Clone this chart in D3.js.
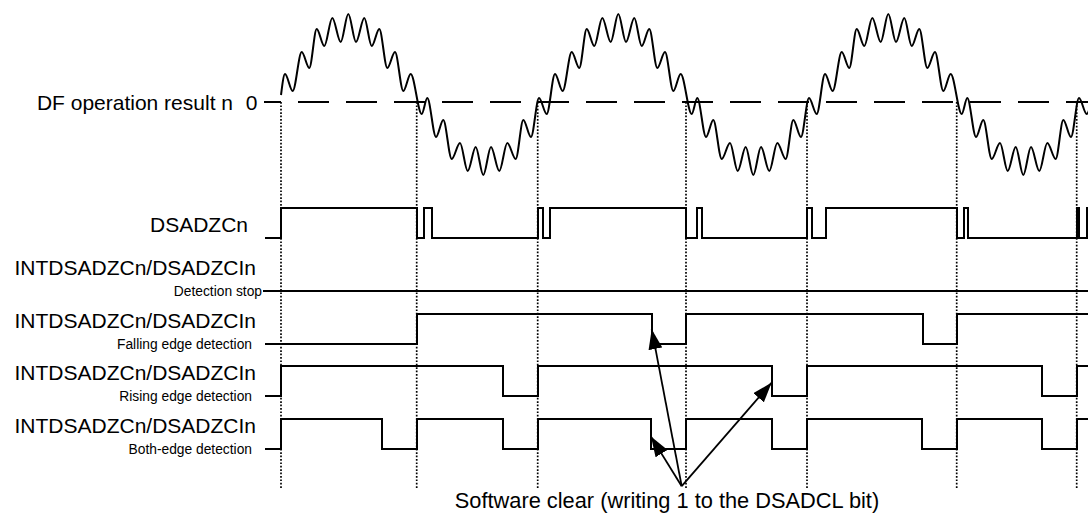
<!DOCTYPE html>
<html>
<head>
<meta charset="utf-8">
<script src="https://cdn.jsdelivr.net/npm/d3@7"></script>
<style>
  html, body { margin: 0; padding: 0; background: #fff; }
  svg { display: block; }
  text { font-family: "Liberation Sans", Arial, sans-serif; fill: #000; }
</style>
</head>
<body>
<div id="chart"></div>
<script>
// ---------------- data (time units; one analog period = 270) ----------------
const zeroCrossings = [0, 135.7, 256.7, 405, 526, 675.7, 795.7];

// DF operation result: ripple extrema [time, value]
const waveT = [
  0, 4, 11.7, 20.7, 28.3, 35.7, 43.3, 51.3, 59.7, 67.3, 75, 83.3, 90.7, 98.3, 106.3, 114, 122.3, 129.7,
  140.7, 146.3, 155, 162.3, 170.7, 179, 186.7, 194.7, 202.3, 210, 218.3, 226.3, 234.7, 242.3, 250, 258, 265.7,
  274, 281.7, 290.7, 298.3, 305.7, 313.3, 321.3, 329.7, 337.3, 345, 353.3, 360.7, 368.3, 376.3, 384, 392.3, 399.7,
  410.7, 416.3, 425, 432.3, 440.7, 449, 456.7, 464.7, 472.3, 480, 488.3, 496.3, 504.7, 512.3, 520, 528, 535.7,
  544, 551.7, 560.7, 568.3, 575.7, 583.3, 591.3, 599.7, 607.3, 615, 623.3, 630.7, 638.3, 646.3, 654, 662.3, 669.7,
  680.7, 686.3, 695, 702.3, 710.7, 719, 726.7, 734.7, 742.3, 750, 758.3, 766.3, 774.7, 782.3, 790, 798, 805.7, 814
];
const waveV = [
  7, 28, 11, 50, 34, 73, 56, 84, 60, 88, 60, 84, 56, 73, 34, 50, 11, 28,
  -12, 4, -35, -18, -57, -41, -69, -45, -73, -45, -69, -41, -57, -18, -35, 4, -12,
  28, 11, 50, 34, 73, 56, 84, 60, 88, 60, 84, 56, 73, 34, 50, 11, 28,
  -12, 4, -35, -18, -57, -41, -69, -45, -73, -45, -69, -41, -57, -18, -35, 4, -12,
  28, 11, 50, 34, 73, 56, 84, 60, 88, 60, 84, 56, 73, 34, 50, 11, 28,
  -12, 4, -35, -18, -57, -41, -69, -45, -73, -45, -69, -41, -57, -18, -35, 4, -12, 28
];

// Digital signals: initial level 0, toggles at the listed times
const dsadzcEdges  = [0, 135.7, 143, 151, 256.7, 261.7, 269, 405, 415.7, 420.7, 526, 530.7, 544.7, 675.7, 683.3, 687.3, 795.7, 798.3, 806.3];
const stopEdges    = [];
const fallingEdges = [135.7, 370.7, 405, 641.7, 675.7];
const risingEdges  = [0, 221.7, 256.7, 491.3, 526, 760.7, 795.7];
const bothEdges    = [0, 100.7, 135.7, 221.7, 256.7, 369.7, 405, 491.3, 526, 640.7, 675.7, 760.7, 795.7];

const rowTitles = ["DSADZCn", "INTDSADZCn/DSADZCIn", "INTDSADZCn/DSADZCIn", "INTDSADZCn/DSADZCIn", "INTDSADZCn/DSADZCIn"];
const rowSubtitles = ["", "Detection stop", "Falling edge detection", "Rising edge detection", "Both-edge detection"];
const waveLabel = "DF operation result n";
const zeroLabel = "0";
const noteText = "Software clear (writing 1 to the DSADCL bit)";
// arrow targets: [time, row, level]
const arrowApex = [400.7, 4.7, 0];
const arrowTips = [[370.7, 2, 0.48], [370, 4, 0.42], [490.7, 3, 0.46]];

// ---------------- drawing ----------------
const W = 1088, H = 513;
const svg = d3.select("#chart").append("svg").attr("width", W).attr("height", H);

const x = d3.scaleLinear().domain([-23, 807]).range([258, 1088]);
const yWave = d3.scaleLinear().domain([-100, 100]).range([202, 2]);
const rowY = d3.scaleLinear().domain([0, 4]).range([238, 449.2]);
const lvl = d3.scaleLinear().domain([0, 1]).range([0, -30]);

svg.append("defs").append("marker")
  .attr("id", "arrow").attr("viewBox", "0 0 20 14")
  .attr("refX", 20).attr("refY", 7)
  .attr("markerWidth", 20).attr("markerHeight", 14)
  .attr("markerUnits", "userSpaceOnUse")
  .attr("orient", "auto")
  .append("path").attr("d", "M0,0 L20,7 L0,14 Z").attr("fill", "#000");

// dotted verticals
svg.append("g").selectAll("line").data(zeroCrossings).join("line")
  .attr("x1", d => x(d)).attr("x2", d => x(d))
  .attr("y1", yWave(0)).attr("y2", 488)
  .attr("stroke", "#000").attr("stroke-width", 1.7)
  .attr("stroke-dasharray", "1.7,1.7");

// zero (dashed) line
svg.append("line")
  .attr("x1", x(-17)).attr("x2", W)
  .attr("y1", yWave(0)).attr("y2", yWave(0))
  .attr("stroke", "#000").attr("stroke-width", 2)
  .attr("stroke-dasharray", "31,17").attr("stroke-dashoffset", 14);

// wave
const wavePts = waveT.map((t, i) => [t, waveV[i]]);
svg.append("path").datum(wavePts)
  .attr("d", d3.line().x(d => x(d[0])).y(d => yWave(d[1])).curve(d3.curveMonotoneX))
  .attr("fill", "none").attr("stroke", "#000").attr("stroke-width", 2);

svg.append("text").attr("x", 233).attr("y", 110).attr("text-anchor", "end")
  .attr("font-size", 21).text(waveLabel);
svg.append("text").attr("x", 257.5).attr("y", 110).attr("text-anchor", "end")
  .attr("font-size", 21).text(zeroLabel);

// digital signals
const signals = [dsadzcEdges, stopEdges, fallingEdges, risingEdges, bothEdges];
const startT = [-16, -18, -16, -16, -16];
const stepLine = d3.line().x(d => x(d[0])).y(d => d[1]).curve(d3.curveStepAfter);
signals.forEach((edges, i) => {
  let level = 0;
  const pts = [[startT[i], rowY(i) + lvl(level)]];
  edges.forEach(t => { level = 1 - level; pts.push([t, rowY(i) + lvl(level)]); });
  pts.push([807, rowY(i) + lvl(level)]);
  svg.append("path").datum(pts).attr("d", stepLine)
    .attr("fill", "none").attr("stroke", "#000").attr("stroke-width", 2)
    .attr("shape-rendering", "crispEdges");
});

// row labels
rowTitles.forEach((t, i) => {
  if (i === 0) {
    svg.append("text").attr("x", 248).attr("y", rowY(0) - 6.5)
      .attr("text-anchor", "end").attr("font-size", 21).text(t);
  } else {
    svg.append("text").attr("x", 256).attr("y", rowY(i) - 16)
      .attr("text-anchor", "end").attr("font-size", 21).text(t);
  }
});
rowSubtitles.forEach((t, i) => {
  if (!t) return;
  svg.append("text").attr("x", i === 1 ? 262 : 252).attr("y", rowY(i) + 5)
    .attr("text-anchor", "end").attr("font-size", 13.8).text(t);
});

// arrows
arrowTips.forEach(tp => {
  svg.append("line")
    .attr("x1", x(arrowApex[0])).attr("y1", rowY(arrowApex[1]) + lvl(arrowApex[2]))
    .attr("x2", x(tp[0])).attr("y2", rowY(tp[1]) + lvl(tp[2]))
    .attr("stroke", "#000").attr("stroke-width", 1.8)
    .attr("marker-end", "url(#arrow)");
});

svg.append("text").attr("x", 667).attr("y", 508).attr("text-anchor", "middle")
  .attr("font-size", 21.8).text(noteText);
</script>
</body>
</html>
